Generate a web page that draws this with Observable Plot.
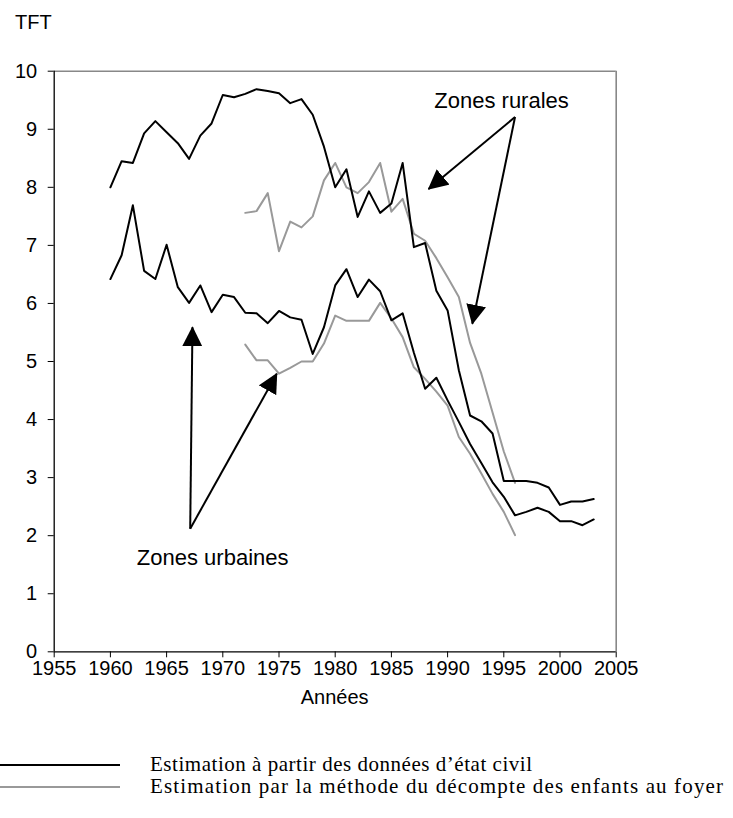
<!DOCTYPE html>
<html>
<head>
<meta charset="utf-8">
<script src="https://cdn.jsdelivr.net/npm/d3@7"></script>
<script src="https://cdn.jsdelivr.net/npm/@observablehq/plot@0.6"></script>
<style>
  html, body { margin: 0; padding: 0; background: #fff; }
  #chart svg { display: block; }
  #legend svg { display: block; }
</style>
</head>
<body>
<div id="chart"></div>
<div id="legend"></div>
<script>
// ---- Data ----
const yearsCivil = d3.range(1960, 2004);
const ruralCivil = [8.00, 8.45, 8.42, 8.93, 9.14, 8.95, 8.76, 8.49, 8.89, 9.10,
  9.59, 9.55, 9.61, 9.69, 9.66, 9.62, 9.45, 9.52, 9.25, 8.70,
  8.00, 8.31, 7.49, 7.93, 7.56, 7.72, 8.42, 6.97, 7.04, 6.22,
  5.88, 4.85, 4.07, 3.97, 3.76, 2.94, 2.94, 2.94, 2.91, 2.83,
  2.53, 2.59, 2.59, 2.63];
const urbanCivil = [6.42, 6.83, 7.69, 6.56, 6.42, 7.01, 6.28, 6.01, 6.31, 5.85,
  6.15, 6.11, 5.84, 5.83, 5.66, 5.87, 5.76, 5.72, 5.13, 5.59,
  6.31, 6.59, 6.11, 6.41, 6.21, 5.71, 5.83, 5.15, 4.53, 4.72,
  4.33, 3.96, 3.58, 3.25, 2.92, 2.67, 2.35, 2.41, 2.48, 2.41,
  2.25, 2.25, 2.18, 2.28];
const yearsOwn = d3.range(1972, 1997);
const ruralOwn = [7.56, 7.59, 7.90, 6.90, 7.41, 7.31, 7.50, 8.12, 8.42, 8.00,
  7.90, 8.09, 8.42, 7.58, 7.80, 7.20, 7.08, 6.78, 6.45, 6.11,
  5.32, 4.79, 4.12, 3.45, 2.91];
const urbanOwn = [5.29, 5.02, 5.02, 4.79, 4.89, 5.00, 5.00, 5.31, 5.79, 5.70,
  5.70, 5.70, 6.01, 5.74, 5.42, 4.90, 4.70, 4.48, 4.24, 3.70,
  3.41, 3.07, 2.72, 2.41, 2.01];

const xTicks = [1955, 1960, 1965, 1970, 1975, 1980, 1985, 1990, 1995, 2000, 2005];
const yTicks = [0, 1, 2, 3, 4, 5, 6, 7, 8, 9, 10];

const labelTexts = ["Zones rurales", "Zones urbaines"];
const labelYears = [1994.8, 1969.1];
const labelValues = [9.49, 1.62];

// arrows: from (x1,y1) to tip (x2,y2)
const arrowX1 = [1996.0, 1996.0, 1967.1, 1967.1];
const arrowY1 = [9.21, 9.21, 2.12, 2.12];
const arrowX2 = [1988.3, 1992.2, 1967.3, 1974.8];
const arrowY2 = [7.97, 5.65, 5.59, 4.79];

const seriesLabels = ["Estimation à partir des données d’état civil",
  "Estimation par la méthode du décompte des enfants au foyer"];
const seriesColors = ["#000000", "#999999"];

// ---- Build tables ----
const toRows = (years, vals) => years.map((x, i) => ({x, y: vals[i]}));
const arrows = arrowX1.map((d, i) => ({x1: d, y1: arrowY1[i], x2: arrowX2[i], y2: arrowY2[i]}));
const labels = labelTexts.map((t, i) => ({text: t, x: labelYears[i], y: labelValues[i]}));

const fig = Plot.plot({
  width: 733,
  height: 730,
  marginLeft: 53.7,
  marginRight: 117.3,
  marginTop: 70.7,
  marginBottom: 78.7,
  style: {fontFamily: "'Liberation Sans', Arial, sans-serif", fontSize: "20px", color: "#000", background: "#fff", overflow: "visible"},
  x: {domain: [1955, 2005], ticks: xTicks, tickFormat: d => String(d), tickSize: 6, tickPadding: 3, label: null},
  y: {domain: [0, 10], ticks: yTicks, tickSize: 6, tickPadding: 11, label: null},
  marks: [
    Plot.ruleY([10], {stroke: "#888", strokeWidth: 1.6}),
    Plot.ruleX([2005], {stroke: "#888", strokeWidth: 1.6}),
    Plot.ruleX([1955], {stroke: "#000", strokeWidth: 1.3}),
    Plot.ruleY([0], {stroke: "#000", strokeWidth: 1.3}),
    Plot.line(toRows(yearsOwn, ruralOwn), {x: "x", y: "y", stroke: seriesColors[1], strokeWidth: 2}),
    Plot.line(toRows(yearsOwn, urbanOwn), {x: "x", y: "y", stroke: seriesColors[1], strokeWidth: 2}),
    Plot.line(toRows(yearsCivil, ruralCivil), {x: "x", y: "y", stroke: seriesColors[0], strokeWidth: 2}),
    Plot.line(toRows(yearsCivil, urbanCivil), {x: "x", y: "y", stroke: seriesColors[0], strokeWidth: 2}),
    Plot.link(arrows, {x1: "x1", y1: "y1", x2: "x2", y2: "y2", stroke: "#000", strokeWidth: 2, ariaLabel: () => "arrow"}),
    Plot.text(labels, {x: "x", y: "y", text: "text", fontSize: 22, fill: "#000"})
  ]
});

const svg = d3.select(fig);
// filled triangular arrowheads
const defs = svg.insert("defs", ":first-child");
defs.append("marker")
  .attr("id", "head")
  .attr("viewBox", "0 0 20 20")
  .attr("refX", 19).attr("refY", 10)
  .attr("markerWidth", 20).attr("markerHeight", 20)
  .attr("markerUnits", "userSpaceOnUse")
  .attr("orient", "auto")
  .append("path").attr("d", "M0,0L20,10L0,20Z").attr("fill", "#000").attr("stroke", "none");
svg.selectAll('g[aria-label="link"] path, path[aria-label="arrow"], g[aria-label="arrow"] path')
  .attr("marker-end", "url(#head)");

// axis titles
svg.append("text").text("TFT")
  .attr("x", 15).attr("y", 29)
  .attr("text-anchor", "start")
  .attr("font-size", 20).attr("fill", "#000");
svg.append("text").text("Années")
  .attr("x", (53.7 + 615.7) / 2).attr("y", 704)
  .attr("text-anchor", "middle")
  .attr("font-size", 20).attr("fill", "#000");

document.getElementById("chart").appendChild(fig);

// legend (below the chart, starting at y = 730)
const legendWidths = [382, 573];
const lg = d3.select("#legend").append("svg").attr("width", 733).attr("height", 88);
seriesLabels.forEach((lab, i) => {
  const cy = 35 + i * 22;
  lg.append("line").attr("x1", 0).attr("x2", 120).attr("y1", cy).attr("y2", cy)
    .attr("stroke", seriesColors[i]).attr("stroke-width", 2);
  lg.append("text").text(lab)
    .attr("x", 150).attr("y", cy + 6)
    .attr("font-family", "'Liberation Serif', 'Times New Roman', serif")
    .attr("font-size", 21)
    .attr("textLength", legendWidths[i])
    .attr("lengthAdjust", "spacing")
    .attr("fill", "#000");
});
</script>
</body>
</html>
